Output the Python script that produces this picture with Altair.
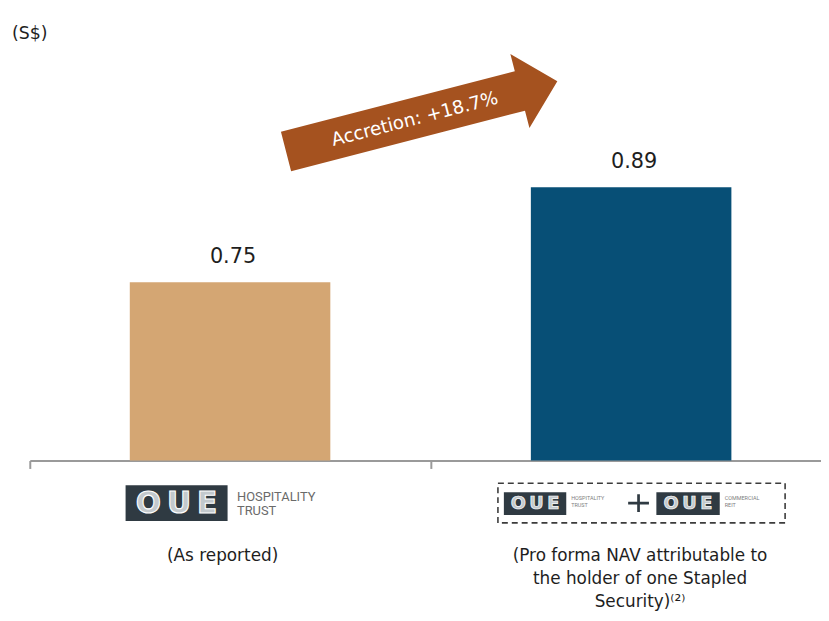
import altair as alt
import pandas as pd

# ---------------- data ----------------
categories = ["OUE Hospitality Trust", "Stapled Group"]
nav_values = [0.75, 0.89]
value_labels = ["0.75", "0.89"]
bar_colors = ["#D4A673", "#074F76"]
captions = [
    "(As reported)",
    "(Pro forma NAV attributable to\nthe holder of one Stapled\nSecurity)\u207d\u00b2\u207e",
]
unit_label = "(S$)"
accretion_label = "Accretion:  +18.7%"
logo_word = "O\u2009U\u2009E"
left_tag = ["HOSPITALITY", "TRUST"]
right_tag_a = ["HOSPITALITY", "TRUST"]
right_tag_b = ["COMMERCIAL", "REIT"]
y_domain = [0.4875, 1.1496]

W, H = 799, 454
LOGO_DARK = "#2F3A42"
FONT = "DejaVu Sans"
TXT = "#1e1e1e"

df = pd.DataFrame({
    "cat": categories,
    "nav": nav_values,
    "label": value_labels,
    "color": bar_colors,
    "caption": captions,
})

x_enc = alt.X(
    "cat:N", sort=categories,
    scale=alt.Scale(paddingInner=0.5, paddingOuter=0.2364, align=0.5274),
    axis=alt.Axis(title=None, labels=False, tickOffset=-202.5,
                  domainColor="#9a9a9a", domainWidth=2,
                  tickColor="#9a9a9a", tickWidth=2, tickSize=8),
)
y_enc = alt.Y("nav:Q", scale=alt.Scale(domain=y_domain, zero=False, nice=False), axis=None)


def rect_path(w, h):
    r = h / w
    return f"M-1,{-r:.4f}L1,{-r:.4f}L1,{r:.4f}L-1,{r:.4f}Z"


ARROW = "M-1,-0.145L0.724,-0.145L0.724,-0.272L1,0L0.724,0.272L0.724,0.145L-1,0.145Z"
PLUS = ("M-1,-0.13L-0.13,-0.13L-0.13,-0.85L0.13,-0.85L0.13,-0.13L1,-0.13L1,0.13"
        "L0.13,0.13L0.13,0.85L-0.13,0.85L-0.13,0.13L-1,0.13Z")


def one(i):
    return alt.Chart(df).transform_filter(alt.datum.cat == categories[i])


base = alt.Chart(df)

bars = base.mark_bar(clip=True).encode(
    x=x_enc, y=y_enc, color=alt.Color("color:N", scale=None)
)
labels = base.mark_text(dy=-25, dx=3, font=FONT, fontSize=21, color=TXT,
                        baseline="middle").encode(x=x_enc, y=y_enc, text="label:N")


def caption_layer(i, xoff):
    return one(i).mark_text(font=FONT, fontSize=17, color=TXT, lineBreak="\n",
                            lineHeight=23.5, baseline="alphabetic", xOffset=xoff).encode(
        x=x_enc, y=alt.value(555), text="caption:N")


caps0 = caption_layer(0, -7.5)
caps1 = caption_layer(1, 9)

unit = one(0).mark_text(text=unit_label, font=FONT, fontSize=17.5, color=TXT,
                        align="left", baseline="alphabetic").encode(
    x=alt.value(-18), y=alt.value(28))

arrow = one(1).mark_point(shape=ARROW, size=283 ** 2, angle=345.5, filled=True,
                          fill="#A5521F", opacity=1, strokeWidth=0, xOffset=-211.5).encode(
    x=x_enc, y=alt.value(106.5))
arrow_txt = one(1).mark_text(text=accretion_label, angle=345.5, font=FONT, fontSize=18.5,
                             color="#ffffff", baseline="middle",
                             xOffset=-218.5).encode(x=x_enc, y=alt.value(109))

# left logo
l_box = one(0).mark_point(shape=rect_path(103, 36), size=103 ** 2, filled=True, fill=LOGO_DARK,
                          opacity=1, strokeWidth=0, xOffset=-54).encode(x=x_enc, y=alt.value(497))
l_word = one(0).mark_text(text=logo_word, font=FONT, fontWeight="bold", fontSize=30,
                          fill="#c3c9cd", stroke="#ffffff", strokeWidth=1.1, baseline="middle",
                          xOffset=-54).encode(x=x_enc, y=alt.value(498))
l_tag = one(0).mark_text(text=left_tag, font="Roboto", fontSize=13, color="#6a6a6a",
                         align="left", baseline="alphabetic", lineHeight=14.5,
                         xOffset=7).encode(x=x_enc, y=alt.value(494.5))

# right logo
r_dash = one(1).mark_point(shape=rect_path(290, 40), size=290 ** 2, filled=False,
                           stroke="#3c3c3c", strokeWidth=1.6, strokeDash=[6, 4], opacity=1,
                           xOffset=10.5).encode(x=x_enc, y=alt.value(497))
r_box_a = one(1).mark_point(shape=rect_path(63, 23), size=63 ** 2, filled=True, fill=LOGO_DARK,
                            opacity=1, strokeWidth=0, xOffset=-97).encode(x=x_enc, y=alt.value(497.5))
r_box_b = one(1).mark_point(shape=rect_path(64, 23), size=64 ** 2, filled=True, fill=LOGO_DARK,
                            opacity=1, strokeWidth=0, xOffset=57.5).encode(x=x_enc, y=alt.value(497.5))
r_word_a = one(1).mark_text(text=logo_word, font=FONT, fontWeight="bold", fontSize=18,
                            fill="#c3c9cd", stroke="#ffffff", strokeWidth=0.7, baseline="middle",
                            xOffset=-97).encode(x=x_enc, y=alt.value(498))
r_word_b = one(1).mark_text(text=logo_word, font=FONT, fontWeight="bold", fontSize=18,
                            fill="#c3c9cd", stroke="#ffffff", strokeWidth=0.7, baseline="middle",
                            xOffset=57.5).encode(x=x_enc, y=alt.value(498))
r_tag_a = one(1).mark_text(text=right_tag_a, font="Roboto", fontSize=5.5, color="#808080",
                           align="left", baseline="alphabetic", lineHeight=7,
                           xOffset=-60.5).encode(x=x_enc, y=alt.value(494))
r_tag_b = one(1).mark_text(text=right_tag_b, font="Roboto", fontSize=5.5, color="#808080",
                           align="left", baseline="alphabetic", lineHeight=7,
                           xOffset=94.5).encode(x=x_enc, y=alt.value(494))
r_plus = one(1).mark_point(shape=PLUS, size=21 ** 2, filled=True, fill=LOGO_DARK, opacity=1,
                           strokeWidth=0, xOffset=7.5).encode(x=x_enc, y=alt.value(497))

chart = alt.layer(
    bars, labels, caps0, caps1, unit, arrow, arrow_txt,
    l_box, l_word, l_tag,
    r_dash, r_box_a, r_box_b, r_word_a, r_word_b, r_tag_a, r_tag_b, r_plus,
).properties(
    width=W, height=H,
    autosize=alt.AutoSizeParams(type="none"),
    padding={"left": 22, "top": 0, "right": 0, "bottom": 151},
).configure_view(strokeWidth=0)

chart.save("out.html", embed_options={"renderer": "svg", "actions": False})
